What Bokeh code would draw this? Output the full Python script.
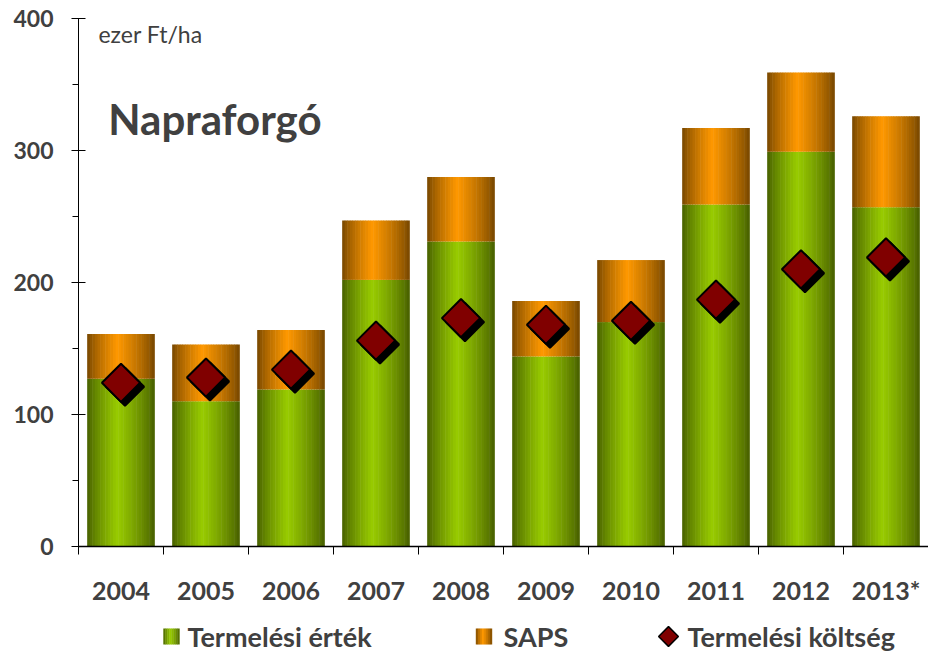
import numpy as np
from bokeh.plotting import figure
from bokeh.models import Range1d, FixedTicker, LinearAxis, Label, Span
from bokeh.layouts import column
from bokeh.embed import file_html
from bokeh.resources import INLINE
from bokeh.core.properties import value

# ---------------- data ----------------
years = ["2004", "2005", "2006", "2007", "2008", "2009", "2010", "2011", "2012", "2013*"]
termelesi_ertek = [127, 110, 119, 202, 231, 144, 170, 259, 299, 257]   # green part
saps = [34, 43, 45, 45, 49, 42, 47, 58, 60, 69]                        # orange part
termelesi_koltseg = [124, 128, 134, 156, 173, 168, 171, 187, 210, 219] # diamonds
y_ticks = [0, 100, 200, 300, 400]
y_minor = [50, 150, 250, 350]

TXT = "#404040"
FONT = "Lato"
GREEN = np.array([0x99, 0xcc, 0x00])
ORANGE = np.array([0xff, 0x99, 0x00])

def shade(t):
    t = np.asarray(t, dtype=float)
    d = np.where(t < 0.45, (0.45 - t) / 0.45, (t - 0.45) / 0.55)
    return 0.45 + 0.55 * (1 - d) ** 0.75

def hexcol(base, f):
    c = np.clip(base * f, 0, 255).astype(int)
    return "#%02x%02x%02x" % tuple(c)

n = len(years)
centers = [i + 0.5 for i in range(n)]
tops_o = [a + b for a, b in zip(termelesi_ertek, saps)]

# ---------------- main figure ----------------
p = figure(width=928, height=612, x_range=Range1d(0, n), y_range=Range1d(-5.3, 400),
           output_backend="svg", toolbar_location=None,
           min_border_left=78, min_border_right=0, min_border_top=18, min_border_bottom=59)
p.xgrid.visible = False
p.ygrid.visible = False
p.outline_line_color = None
p.background_fill_color = "white"

# gradient bars as narrow strips
N = 26
W = 0.79
tt = (np.arange(N) + 0.5) / N
f = shade(tt)
gcols = [hexcol(GREEN, v) for v in f]
ocols = [hexcol(ORANGE, v) for v in f]
xs, gb, gt, ob, ot, gc, oc = [], [], [], [], [], [], []
for i in range(n):
    for k in range(N):
        xs.append(centers[i] - W / 2 + tt[k] * W)
        gb.append(0); gt.append(termelesi_ertek[i])
        ob.append(termelesi_ertek[i]); ot.append(tops_o[i])
        gc.append(gcols[k]); oc.append(ocols[k])
sw = W / N * 1.2
p.vbar(x=xs, width=sw, bottom=gb, top=gt, fill_color=gc, line_color=None)
p.vbar(x=xs, width=sw, bottom=ob, top=ot, fill_color=oc, line_color=None)

# x axis line at zero
p.add_layout(Span(location=0, dimension="width", line_color="black", line_width=1.3))

# diamonds with shadow
dx = 0.047
dy = 3.0
p.scatter(x=[c + dx for c in centers], y=[v - dy for v in termelesi_koltseg],
          marker="square", angle=np.pi / 4, size=27,
          fill_color="black", line_color="black", line_width=2)
p.scatter(x=centers, y=termelesi_koltseg, marker="square", angle=np.pi / 4, size=27,
          fill_color="#800000", line_color="black", line_width=2)

# y axis
ya = p.yaxis[0]
ya.ticker = FixedTicker(ticks=y_ticks, minor_ticks=y_minor)
ya.axis_line_color = "black"
ya.major_tick_line_color = "black"
ya.minor_tick_line_color = "black"
ya.major_tick_in = 7
ya.major_tick_out = 7
ya.minor_tick_in = 0
ya.minor_tick_out = 6
ya.major_label_text_font = FONT
ya.major_label_text_font_style = "bold"
ya.major_label_text_font_size = "23px"
ya.major_label_text_color = TXT
ya.major_label_standoff = 18

# x axis: boundary ticks
xa = p.xaxis[0]
xa.ticker = FixedTicker(ticks=list(range(n + 1)), minor_ticks=[])
xa.axis_line_color = None
xa.major_tick_line_color = "black"
xa.major_tick_in = 7
xa.major_tick_out = 1
xa.minor_tick_line_color = None
xa.major_label_text_font_size = "1px"
xa.major_label_text_alpha = 0
xa.major_label_standoff = 0

# x axis: category labels
la = LinearAxis(ticker=FixedTicker(ticks=centers, minor_ticks=[]),
                major_label_overrides={c: y for c, y in zip(centers, years)})
la.axis_line_color = None
la.major_tick_line_color = None
la.minor_tick_line_color = None
la.major_tick_in = 0
la.major_tick_out = 0
la.major_label_text_font = FONT
la.major_label_text_font_style = "bold"
la.major_label_text_font_size = "25px"
la.major_label_text_color = TXT
la.major_label_standoff = 20
p.add_layout(la, "below")

p.add_layout(Label(x=0.35, y=324, text="Napraforgó", text_font=FONT,
                   text_font_style="bold", text_font_size="42px",
                   text_color=TXT, text_baseline="alphabetic"))
p.add_layout(Label(x=0.235, y=388.6, text="ezer Ft/ha", text_font=FONT,
                   text_font_size="23px", text_color=TXT, text_baseline="alphabetic"))

# ---------------- legend strip ----------------
# its frame lines up with the main frame (x from 78 to 928 px)
q = figure(width=928, height=42, x_range=Range1d(78, 928), y_range=Range1d(0, 42),
           output_backend="svg", toolbar_location=None,
           x_axis_type=None, y_axis_type=None,
           min_border=0, min_border_left=78, min_border_right=0,
           min_border_top=0, min_border_bottom=0)
q.xgrid.visible = False
q.ygrid.visible = False
q.outline_line_color = None

leg_labels = ["Termelési érték", "SAPS", "Termelési költség"]
M = 8
lt = (np.arange(M) + 0.5) / M
lf = shade(lt)
for cx, base in [(171, GREEN), (483.5, ORANGE)]:
    q.vbar(x=[cx - 8 + v * 16 for v in lt], width=16 / M * 1.2, bottom=10, top=26,
           fill_color=[hexcol(base, v) for v in lf], line_color=None)
q.scatter(x=[668], y=[18], marker="square", angle=np.pi / 4, size=14,
          fill_color="#800000", line_color="black", line_width=1.5)
q.text(x=[187, 503, 687], y=[18, 18, 18], text=leg_labels, text_font=value(FONT),
       text_font_style="bold", text_font_size="27px", text_color=TXT,
       text_baseline="middle", text_align="left")

layout = column(p, q, spacing=0)
open("out.html", "w").write(file_html(layout, INLINE))
